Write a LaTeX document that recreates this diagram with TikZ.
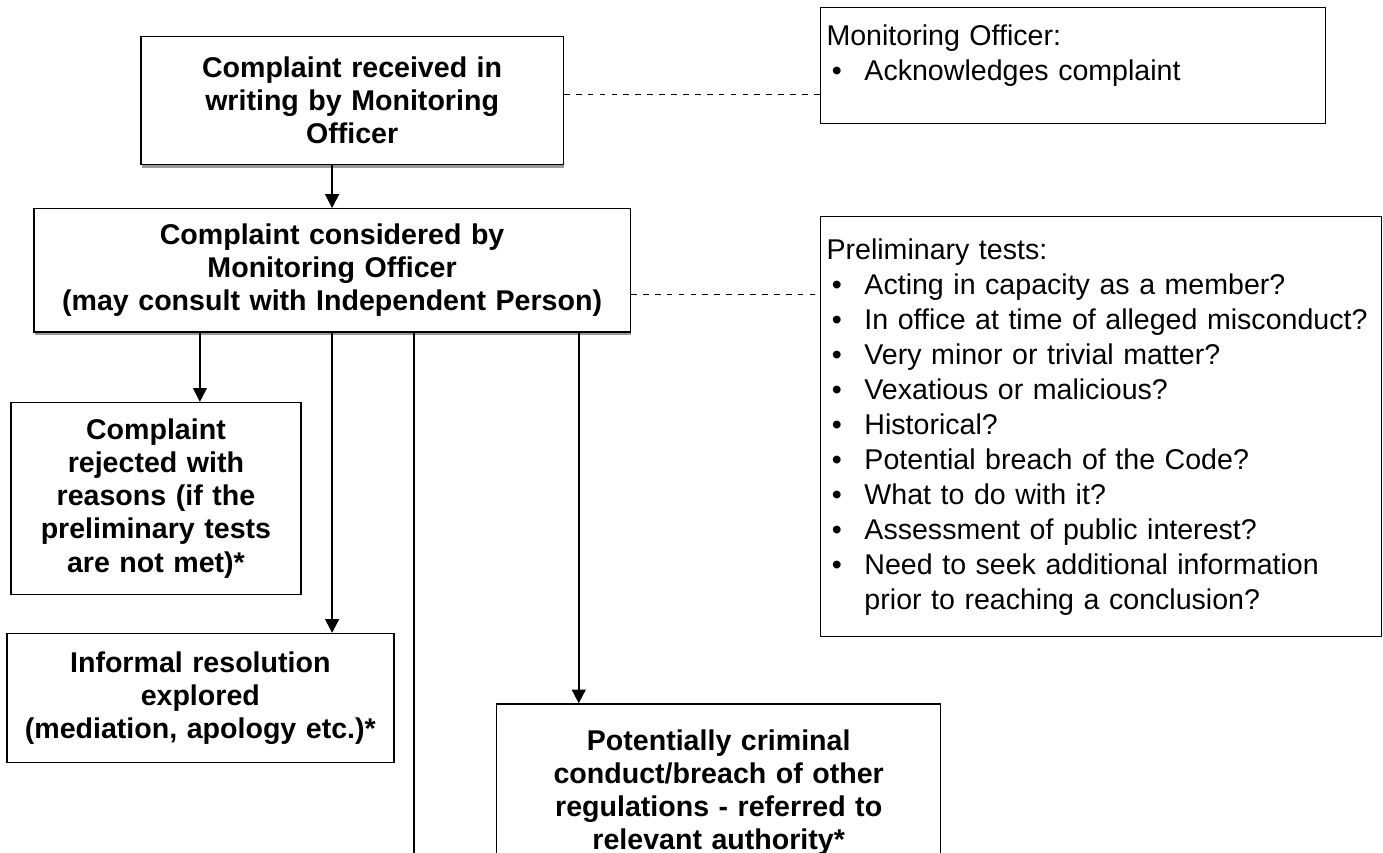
\documentclass[tikz,border=0pt]{standalone}
\usepackage{fontspec}
\setmainfont{Liberation Sans}
\usepackage{tikz}
\usetikzlibrary{arrows.meta,shadows}

\newcommand{\blt}{\makebox[0.56cm][l]{\hspace{0.08cm}\textbullet}}

\begin{document}
\begin{tikzpicture}[
  >={Triangle[length=5.8pt,width=5.8pt]},
  mainbox/.style={draw=black, line width=0.6pt, fill=white,
                inner xsep=4pt, inner ysep=2pt, align=center, anchor=north west,
                font=\fontsize{12}{13.9}\selectfont\bfseries},
  shadowbox/.style={mainbox, drop shadow={shadow xshift=0.4pt,
                shadow yshift=-1.3pt, fill=black!40, opacity=1}},
  notebox/.style={draw=black, line width=0.45pt, fill=white,
                inner xsep=0.09cm, inner ysep=2pt, align=left, anchor=north west,
                font=\fontsize{12}{14.7}\selectfont},
  flow/.style={->, line width=0.8pt, black},
  link/.style={line width=0.5pt, black, dash pattern=on 2.4pt off 2.6pt}]

%% marco: 1383x852 px, 1 px = 0.01476 cm
\useasboundingbox (0,0) rectangle (20.41,-12.58);

%% ---- columna izquierda: el proceso ----
\node[shadowbox, text width=5.95cm, minimum height=1.89cm] (recv) at (2.07,-0.53)
  {Complaint received in\\ writing by Monitoring\\ Officer};

\node[shadowbox, text width=8.52cm, minimum height=1.82cm] (cons) at (0.49,-3.07)
  {Complaint considered by\\ Monitoring Officer\\
   (may consult with Independent Person)};

\node[mainbox, text width=4.00cm, minimum height=2.83cm] (rej) at (0.15,-5.93)
  {Complaint\\ rejected with\\ reasons (if the\\ preliminary tests\\ are not met)*};

\node[mainbox, text width=5.43cm, minimum height=1.90cm] (infres) at (0.09,-9.34)
  {Informal resolution\\ explored\\ (mediation, apology etc.)*};

% esta caja sigue por debajo del borde de la hoja
\node[mainbox, text width=6.27cm, minimum height=2.61cm] (crim) at (7.32,-10.38)
  {Potentially criminal\\ conduct/breach of other\\ regulations - referred to\\
   relevant authority*};

%% ---- columna derecha: notas ----
\node[notebox, text width=7.27cm, minimum height=1.71cm] (moack) at (12.10,-0.10)
  {Monitoring Officer:\\ \blt Acknowledges complaint\\[-0.15cm] \mbox{}};

\node[notebox, text width=8.10cm, minimum height=6.20cm] (prelim) at (12.10,-3.19)
  {Preliminary tests:\\
   \blt Acting in capacity as a member?\\
   \blt In office at time of alleged misconduct?\\
   \blt Very minor or trivial matter?\\
   \blt Vexatious or malicious?\\
   \blt Historical?\\
   \blt Potential breach of the Code?\\
   \blt What to do with it?\\
   \blt Assessment of public interest?\\
   \blt Need to seek additional information\\
   \hspace*{0.56cm}prior to reaching a conclusion?};

%% ---- flujo ----
\draw[flow] (recv.south -| cons.north) -- (cons.north);
\draw[flow] ([xshift=2.46cm]cons.south west)
  -- ([xshift=2.46cm]cons.south west |- rej.north);
\draw[flow] (cons.south) -- (cons.south |- infres.north);
\draw[flow] ([xshift=3.64cm]cons.south) -- ([xshift=3.64cm]cons.south |- crim.north);

% la cuarta salida baja hasta fuera de la hoja
\coordinate (offpage) at (6.11,-12.80);
\draw[line width=0.8pt] (offpage |- cons.south) -- (offpage);

% notas unidas con trazo discontinuo
\draw[link] ([yshift=0.09cm]recv.east) -- ([yshift=0.09cm]recv.east -| moack.west);
\draw[link] ([yshift=-0.35cm]cons.east) -- ([yshift=-0.35cm]cons.east -| prelim.west);
\end{tikzpicture}
\end{document}
